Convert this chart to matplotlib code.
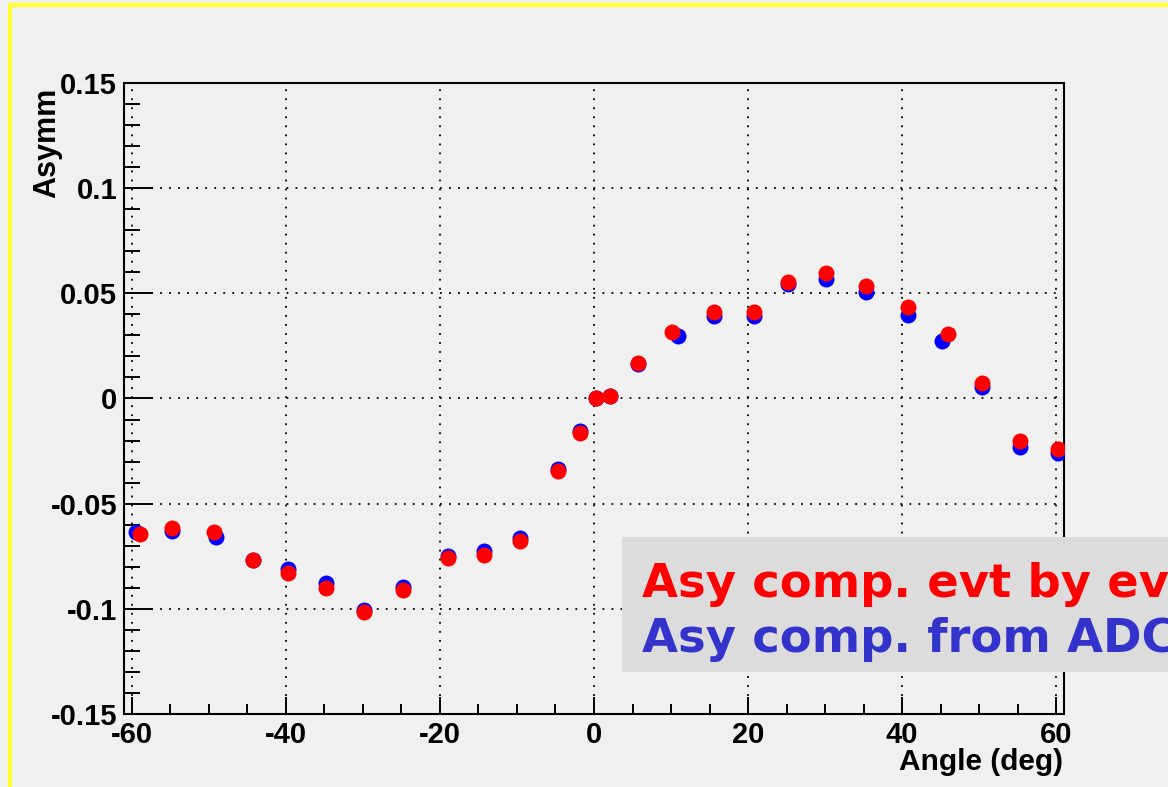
import matplotlib
matplotlib.use("Agg")
import matplotlib.pyplot as plt
from matplotlib.patches import Rectangle
from matplotlib.ticker import FixedLocator, MultipleLocator

# asymmetry vs. angle, two ways of computing it
angle_evt = [-58.95, -54.8, -49.3, -44.3, -39.7, -34.8, -29.8, -24.8, -18.94,
             -14.34, -9.64, -4.67, -1.86, 0.31, 2.04, 5.71, 10.12, 15.57,
             20.72, 25.17, 30.15, 35.25, 40.74, 45.93, 50.34, 55.24, 60.2]
asy_evt = [-0.0645, -0.0618, -0.0637, -0.0768, -0.0829, -0.0903, -0.1016,
           -0.0911, -0.0759, -0.0742, -0.0677, -0.0347, -0.0166, 0.0, 0.0012,
           0.0171, 0.0316, 0.0411, 0.0411, 0.0556, 0.0595, 0.0535, 0.0437,
           0.0305, 0.0076, -0.0201, -0.0241]

angle_adc = [-59.4, -54.8, -49.1, -44.3, -39.7, -34.8, -29.8, -24.8, -18.94,
             -14.34, -9.64, -4.67, -1.86, 0.31, 2.04, 5.71, 10.9, 15.57,
             20.72, 25.17, 30.15, 35.25, 40.74, 45.15, 50.34, 55.24, 60.2]
asy_adc = [-0.0634, -0.0629, -0.0657, -0.0768, -0.0811, -0.0877, -0.1004,
           -0.0895, -0.0748, -0.0727, -0.0664, -0.0336, -0.0154, 0.0, 0.0012,
           0.0162, 0.0295, 0.0392, 0.0392, 0.0543, 0.0570, 0.0506, 0.0396,
           0.0274, 0.0055, -0.0230, -0.0257]

x_ticks = [-60, -40, -20, 0, 20, 40, 60]
x_ticklabels = ["-60", "-40", "-20", "0", "20", "40", "60"]
y_ticks = [-0.15, -0.1, -0.05, 0, 0.05, 0.1, 0.15]
y_ticklabels = ["-0.15", "-0.1", "-0.05", "0", "0.05", "0.1", "0.15"]

legend_lines = ["Asy comp. evt by evt", "Asy comp. from ADC"]
legend_colors = ["#ff0000", "#3333cc"]

W, H = 1168, 787
bg = "#f0f0f0"
fig = plt.figure(figsize=(W / 100, H / 100), dpi=100, facecolor=bg)
ax = fig.add_axes([124 / W, 1 - 714 / H, (1064 - 124) / W, (714 - 83) / H])
ax.set_facecolor(bg)

ax.plot(angle_adc, asy_adc, "o", color="#0000ff", ms=11.5, mec="none", zorder=3)
ax.plot(angle_evt, asy_evt, "o", color="#ff0000", ms=11.5, mec="none", zorder=4)

ax.set_xlim(-61, 61)
ax.set_ylim(-0.15, 0.15)

tick_font = dict(family="Liberation Sans", weight="bold", size=21)
ax.xaxis.set_major_locator(FixedLocator(x_ticks))
ax.set_xticklabels(x_ticklabels, fontdict=tick_font)
ax.xaxis.set_minor_locator(MultipleLocator(5))
ax.yaxis.set_major_locator(FixedLocator(y_ticks))
ax.set_yticklabels(y_ticklabels, fontdict=tick_font)
ax.yaxis.set_minor_locator(MultipleLocator(0.01))

ax.tick_params(axis="x", which="major", direction="in", length=12, width=1.4, pad=5)
ax.tick_params(axis="x", which="minor", direction="in", length=7, width=1.4)
ax.tick_params(axis="y", which="major", direction="in", length=21, width=1.4, pad=5)
ax.tick_params(axis="y", which="minor", direction="in", length=11.5, width=1.4)

for sp in ax.spines.values():
    sp.set_linewidth(1.5)
    sp.set_color("black")

ax.grid(True, which="major", color="black", linestyle=(0, (1, 4)), linewidth=1.3)
ax.set_axisbelow(True)

fig.text(47 / W, 1 - 88 / H, "Asymm", rotation=90, ha="center", va="top",
         family="Liberation Sans", weight="bold", size=22)
fig.text(1063 / W, 1 - 770 / H, "Angle (deg)", ha="right", va="baseline",
         family="Liberation Sans", weight="bold", size=21.5)

# legend box sitting over the lower right part of the frame
fig.add_artist(Rectangle((622 / W, 1 - 672 / H), (W - 622) / W + 0.05, 135 / H,
                         transform=fig.transFigure, facecolor="#dcdcdc",
                         edgecolor="none", zorder=5))
for i, (txt, col) in enumerate(zip(legend_lines, legend_colors)):
    fig.text(642 / W, 1 - (597 + 55 * i) / H, txt, color=col, ha="left",
             va="baseline", family="DejaVu Sans", weight="bold", size=33.5,
             zorder=6)

# yellow frame around the canvas
fig.add_artist(Rectangle((10 / W, -0.1), 1.2, 1.1 - 5 / H,
                         transform=fig.transFigure, facecolor="none",
                         edgecolor="#ffff33", linewidth=3, zorder=7))

fig.savefig("out.png", dpi=100, facecolor=bg)
